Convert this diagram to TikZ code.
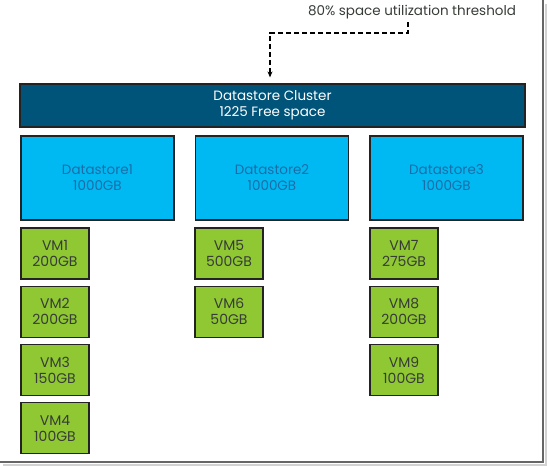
\documentclass[tikz,border=0pt]{standalone}
\usepackage{fontspec}
\setmainfont{Poppins}
\usetikzlibrary{arrows.meta, positioning}
\definecolor{clusterblue}{RGB}{0,84,122}
\definecolor{dsblue}{RGB}{0,185,242}
\definecolor{dstext}{RGB}{28,108,168}
\definecolor{vmgreen}{RGB}{143,200,50}
\definecolor{vmtext}{RGB}{55,60,55}
\definecolor{edge}{RGB}{35,35,35}

\begin{document}
\begin{tikzpicture}[x=1pt, y=-1pt,
    box/.style={draw=edge, line width=1.2pt, rectangle, align=center,
        inner sep=0pt, font=\fontsize{13.5}{16}\selectfont},
    clusterbox/.style={box, fill=clusterblue, text=white,
        minimum width=505pt, minimum height=43pt},
    dsbox/.style={box, fill=dsblue, text=dstext,
        minimum width=153pt, minimum height=84pt},
    vmbox/.style={box, fill=vmgreen, text=vmtext,
        minimum width=68pt, minimum height=51pt,
        font=\fontsize{14}{16}\selectfont},
    thrline/.style={dashed, dash pattern=on 5pt off 3pt, line width=1.1pt,
        -{Stealth[length=6pt, width=5pt]}, shorten >=6pt}]
    \useasboundingbox (0,0) rectangle (547,466);

    % Rahmen rechts und unten
    \draw[gray!35, line width=3pt] (546,4) -- (546,465) -- (3,465);
    \draw[gray!80!black, line width=1.5pt] (543,0) -- (543,462) -- (0,462);

    % Schwellwert
    \node[font=\fontsize{13.5}{16}\selectfont, text=vmtext] (thresh) at (412,12) {80\% space utilization threshold};
    \coordinate (drop) at (408,33);
    \coordinate (turn) at (270,33);

    % Datastore Cluster
    \node[clusterbox] (cluster) at (272.5,105.5) {Datastore Cluster\\1225 Free space};
    \draw[thrline] (thresh.south -| drop) -- (drop) -- (turn) -- (turn |- cluster.north);

    % Datastores
    \node[dsbox] (ds1) at (97.5,178) {Datastore1\\1000GB};
    \node[dsbox] (ds2) at (272,178) {Datastore2\\1000GB};
    \node[dsbox] (ds3) at (446.5,178) {Datastore3\\1000GB};

    % VMs Datastore1
    \node[vmbox] (vm1) at (55,253.5) {VM1\\200GB};
    \node[vmbox, below=6pt of vm1] (vm2) {VM2\\200GB};
    \node[vmbox, below=6pt of vm2] (vm3) {VM3\\150GB};
    \node[vmbox, below=6pt of vm3] (vm4) {VM4\\100GB};

    % VMs Datastore2
    \node[vmbox] (vm5) at (229,253.5) {VM5\\500GB};
    \node[vmbox, below=6pt of vm5] (vm6) {VM6\\50GB};

    % VMs Datastore3
    \node[vmbox] (vm7) at (404,253.5) {VM7\\275GB};
    \node[vmbox, below=6pt of vm7] (vm8) {VM8\\200GB};
    \node[vmbox, below=6pt of vm8] (vm9) {VM9\\100GB};
\end{tikzpicture}
\end{document}
